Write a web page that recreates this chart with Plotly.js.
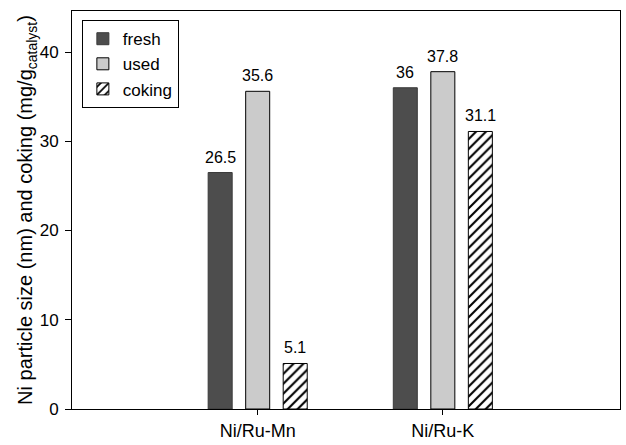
<!DOCTYPE html>
<html>
<head>
<meta charset="utf-8">
<script src="https://cdn.plot.ly/plotly-3.0.1.min.js"></script>
<style>html,body{margin:0;padding:0;background:#fff;}#chart{width:626px;height:445px;}</style>
</head>
<body>
<div id="chart"></div>
<script>
const categories = ["Ni/Ru-Mn", "Ni/Ru-K"];
const seriesNames = ["fresh", "used", "coking"];
const fresh = [26.5, 36];
const used = [35.6, 37.8];
const coking = [5.1, 31.1];
const labels = [["26.5", "36"], ["35.6", "37.8"], ["5.1", "31.1"]];
const yTicks = [0, 10, 20, 30, 40];

const FONT = "Liberation Sans, Arial, sans-serif";
const values = [fresh, used, coking];
const styles = [
  {color: "#4d4d4d", line: {color: "#3a3a3a", width: 1}},
  {color: "#cbcbcb", line: {color: "#000", width: 1}},
  {color: "#ffffff", line: {color: "#000", width: 1},
   pattern: {shape: "/", fgcolor: "#000", bgcolor: "#fff", size: 7, solidity: 0.3}}
];

const traces = values.map((v, k) => ({
  type: "bar",
  name: seriesNames[k],
  x: categories.map((c, i) => i),
  y: v,
  marker: styles[k],
  hoverinfo: "skip"
}));

const bargap = 0.392, bargroupgap = 0.36;
const slot = (1 - bargap) / 3;
const annotations = [];
values.forEach((v, k) => {
  v.forEach((val, i) => {
    annotations.push({
      x: i + (k - 1) * slot, y: val, xref: "x", yref: "y",
      text: labels[k][i], showarrow: false, yanchor: "bottom", yshift: 5,
      font: {family: FONT, size: 16, color: "#000"}
    });
  });
});

const layout = {
  width: 626, height: 445,
  margin: {l: 72, r: 6, t: 11, b: 36},
  paper_bgcolor: "#fff", plot_bgcolor: "#fff",
  barmode: "group", bargap: bargap, bargroupgap: bargroupgap,
  font: {family: FONT, color: "#000"},
  showlegend: true,
  legend: {
    x: 0.018, y: 0.977, xanchor: "left", yanchor: "top",
    bordercolor: "#000", borderwidth: 1, bgcolor: "#fff",
    font: {family: FONT, size: 17, color: "#000"},
    tracegroupgap: 0
  },
  xaxis: {
    range: [-1.003, 1.957],
    tickmode: "array", tickvals: categories.map((c, i) => i), ticktext: categories,
    ticks: "outside", ticklen: 5, tickcolor: "#000", tickwidth: 1,
    showline: true, linecolor: "#000", linewidth: 1, mirror: true,
    showgrid: false, zeroline: false,
    tickfont: {family: FONT, size: 18, color: "#000"}
  },
  yaxis: {
    range: [0, 44.6],
    tickmode: "array", tickvals: yTicks,
    ticks: "outside", ticklen: 6, tickcolor: "#000", tickwidth: 1,
    ticklabelstandoff: 3,
    showline: true, linecolor: "#000", linewidth: 1, mirror: true,
    showgrid: false, zeroline: false,
    tickfont: {family: FONT, size: 17, color: "#000"},
    title: {text: "Ni particle size (nm) and coking (mg/g<sub>catalyst</sub>)",
            font: {family: FONT, size: 20, color: "#000"}, standoff: 0}
  },
  annotations: annotations
};

Plotly.newPlot("chart", traces, layout, {staticPlot: true, displayModeBar: false});
</script>
</body>
</html>
